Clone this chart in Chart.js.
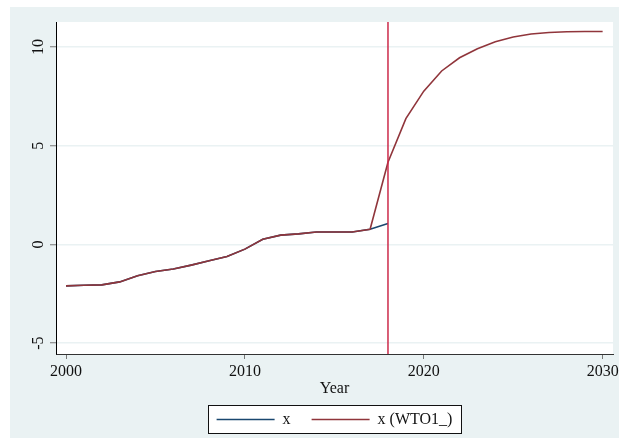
<!DOCTYPE html>
<html>
<head>
<meta charset="utf-8">
<title>x and x (WTO1_) by Year</title>
<script src="https://cdn.jsdelivr.net/npm/chart.js@4/dist/chart.umd.min.js"></script>
<style>
  html, body { margin: 0; padding: 0; background: #ffffff; }
  canvas { display: block; }
</style>
</head>
<body>
<canvas id="chart" width="626" height="448"></canvas>
<script>
// Years on the horizontal axis
const years = [2000, 2001, 2002, 2003, 2004, 2005, 2006, 2007, 2008, 2009,
               2010, 2011, 2012, 2013, 2014, 2015, 2016, 2017, 2018, 2019,
               2020, 2021, 2022, 2023, 2024, 2025, 2026, 2027, 2028, 2029, 2030];

// Observed series x, 2000-2018
const seriesX = [-2.10, -2.07, -2.05, -1.90, -1.59, -1.37, -1.25, -1.05, -0.83, -0.61,
                 -0.24, 0.26, 0.47, 0.53, 0.63, 0.63, 0.63, 0.77, 1.06];

// Series x (WTO1_), 2000-2030
const seriesWTO = [-2.10, -2.07, -2.05, -1.90, -1.59, -1.37, -1.25, -1.05, -0.83, -0.61,
                   -0.24, 0.26, 0.47, 0.53, 0.63, 0.63, 0.63, 0.77, 4.16, 6.37,
                   7.76, 8.78, 9.45, 9.91, 10.26, 10.50, 10.65, 10.73, 10.77, 10.78, 10.78];

const seriesLabels = ['x', 'x (WTO1_)'];
const xTickValues = [2000, 2010, 2020, 2030];
const yTickValues = [-5, 0, 5, 10];
const markerYear = 2018;
const xTitle = 'Year';

const FONT = "'Liberation Serif', 'Times New Roman', serif";
const BG = '#eaf2f3';

const toPoints = (vals) => vals.map((v, i) => ({ x: years[i], y: v }));

// Rectangle that encloses the legend entries
function legendRect(chart) {
  const lg = chart.legend;
  if (!lg || !lg.legendHitBoxes || !lg.legendHitBoxes.length) return null;
  const boxes = lg.legendHitBoxes;
  const first = boxes[0];
  const last = boxes[boxes.length - 1];
  const left = Math.round(first.left - 9) + 0.5;
  const right = Math.round(last.left + last.width + 9) + 0.5;
  const top = Math.round(first.top + first.height / 2 - 14.3) + 0.5;
  return { left, top, width: right - left, height: 28 };
}

// Page background, outer panel, white plot region and legend box fill
const backdrop = {
  id: 'backdrop',
  beforeDraw(chart) {
    const { ctx, chartArea } = chart;
    ctx.save();
    ctx.fillStyle = '#ffffff';
    ctx.fillRect(0, 0, chart.width, chart.height);
    ctx.fillStyle = BG;
    ctx.fillRect(10, 7, 609, 431);
    ctx.fillStyle = '#ffffff';
    ctx.fillRect(chartArea.left, chartArea.top, chartArea.right - chartArea.left, chartArea.bottom - chartArea.top);
    const r = legendRect(chart);
    if (r) ctx.fillRect(r.left, r.top, r.width, r.height);
    ctx.restore();
  }
};

// Vertical reference line at the marker year
const markerLine = {
  id: 'markerLine',
  afterDatasetsDraw(chart) {
    const { ctx, chartArea, scales } = chart;
    const px = scales.x.getPixelForValue(markerYear);
    ctx.save();
    ctx.strokeStyle = '#cc2a4a';
    ctx.lineWidth = 1.5;
    ctx.beginPath();
    ctx.moveTo(px, chartArea.top);
    ctx.lineTo(px, chartArea.bottom);
    ctx.stroke();
    ctx.restore();
  }
};

// Frame around the legend entries
const legendFrame = {
  id: 'legendFrame',
  afterDraw(chart) {
    const r = legendRect(chart);
    if (!r) return;
    const { ctx } = chart;
    ctx.save();
    ctx.strokeStyle = '#111111';
    ctx.lineWidth = 1;
    ctx.strokeRect(r.left, r.top, r.width, r.height);
    ctx.restore();
  }
};

new Chart(document.getElementById('chart'), {
  type: 'line',
  data: {
    datasets: [
      {
        label: seriesLabels[0],
        data: toPoints(seriesX),
        borderColor: '#1a476f',
        backgroundColor: '#1a476f',
        borderWidth: 1.6,
        pointRadius: 0,
        tension: 0,
        order: 1
      },
      {
        label: seriesLabels[1],
        data: toPoints(seriesWTO),
        borderColor: '#90353b',
        backgroundColor: '#90353b',
        borderWidth: 1.6,
        pointRadius: 0,
        tension: 0,
        order: 0
      }
    ]
  },
  options: {
    responsive: false,
    animation: false,
    devicePixelRatio: 1,
    layout: { padding: { left: 10, top: 22, right: 13, bottom: 10.5 } },
    plugins: {
      tooltip: { enabled: false },
      legend: {
        position: 'bottom',
        fullSize: false,
        labels: {
          font: { family: FONT, size: 16 },
          color: '#111111',
          padding: 21,
          usePointStyle: true,
          pointStyle: 'line',
          pointStyleWidth: 58,
          sort: (a, b) => a.datasetIndex - b.datasetIndex
        }
      }
    },
    scales: {
      x: {
        type: 'linear',
        min: 1999.44,
        max: 2030.58,
        afterBuildTicks: (scale) => { scale.ticks = xTickValues.map(v => ({ value: v })); },
        afterFit: (scale) => { scale.height = 36.5; },
        grid: { drawOnChartArea: false, drawTicks: true, tickLength: 5, tickColor: '#777777', tickWidth: 1 },
        border: { color: '#333333', width: 1 },
        ticks: {
          autoSkip: false,
          maxRotation: 0,
          padding: 3,
          color: '#111111',
          font: { family: FONT, size: 16 },
          callback: (v) => String(v)
        },
        title: {
          display: true,
          text: xTitle,
          color: '#111111',
          font: { family: FONT, size: 16 },
          padding: { top: 0, bottom: -8 }
        }
      },
      y: {
        type: 'linear',
        min: -5.55,
        max: 11.26,
        afterBuildTicks: (scale) => { scale.ticks = yTickValues.map(v => ({ value: v })); },
        afterFit: (scale) => { scale.width = 46; },
        grid: { color: BG, lineWidth: 1.5, tickLength: 6, tickColor: '#777777', tickWidth: 1 },
        border: { color: '#000000', width: 1 },
        ticks: {
          autoSkip: false,
          minRotation: 90,
          maxRotation: 90,
          crossAlign: 'center',
          padding: 3.3,
          color: '#111111',
          font: { family: FONT, size: 16 },
          callback: (v) => String(v)
        }
      }
    }
  },
  plugins: [backdrop, markerLine, legendFrame]
});
</script>
</body>
</html>
